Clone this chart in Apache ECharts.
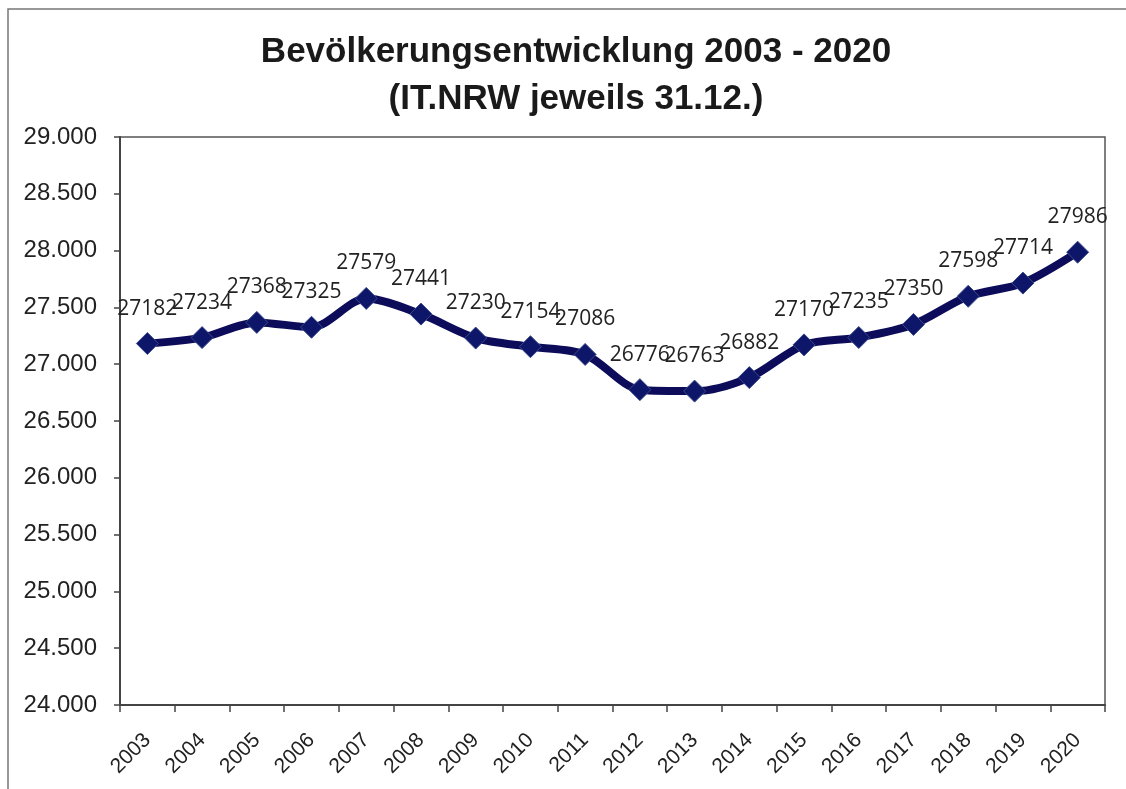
<!DOCTYPE html>
<html>
<head>
<meta charset="utf-8">
<script src="https://cdn.jsdelivr.net/npm/echarts@6/dist/echarts.min.js"></script>
<style>
  html, body { margin: 0; padding: 0; background: #fff; }
  #chart { width: 1126px; height: 789px; }
</style>
</head>
<body>
<div id="chart"></div>
<script>
// Werte laut IT.NRW, jeweils zum 31.12.
const years = ["2003", "2004", "2005", "2006", "2007", "2008", "2009", "2010", "2011",
  "2012", "2013", "2014", "2015", "2016", "2017", "2018", "2019", "2020"];
const population = [27182, 27234, 27368, 27325, 27579, 27441, 27230, 27154, 27086,
  26776, 26763, 26882, 27170, 27235, 27350, 27598, 27714, 27986];
const yMin = 24000;
const yMax = 29000;
const yStep = 500;

// 29000 -> "29.000"
function deNumber(v) {
  return String(v).replace(/\B(?=(\d{3})+(?!\d))/g, ".");
}

const chart = echarts.init(document.getElementById("chart"));
chart.setOption({
  backgroundColor: "#fff",
  animation: false,
  title: {
    text: "Bevölkerungsentwicklung 2003 - 2020\n(IT.NRW jeweils 31.12.)",
    left: 571,
    top: 24,
    textAlign: "center",
    textStyle: {
      fontFamily: "Liberation Sans",
      fontWeight: "bold",
      fontSize: 35,
      lineHeight: 47,
      color: "#1a1a1a"
    }
  },
  graphic: [{
    type: "rect",
    shape: { x: 8, y: 9, width: 1140, height: 800 },
    style: { fill: "none", stroke: "#777", lineWidth: 1.5 }
  }],
  grid: {
    left: 120, right: 21, top: 137, bottom: 84,
    show: true,
    borderColor: "#555",
    borderWidth: 1.5
  },
  xAxis: {
    type: "category",
    data: years,
    boundaryGap: true,
    axisLine: { lineStyle: { color: "#444", width: 2 } },
    axisTick: { show: true, length: 7, lineStyle: { color: "#444", width: 1.5 } },
    axisLabel: {
      rotate: 45,
      margin: 32,
      fontFamily: "Liberation Sans",
      fontSize: 21,
      color: "#222"
    }
  },
  yAxis: {
    type: "value",
    min: yMin,
    max: yMax,
    interval: yStep,
    axisLine: { show: true, lineStyle: { color: "#444", width: 2 } },
    axisTick: { show: true, length: 6, lineStyle: { color: "#444", width: 1.5 } },
    splitLine: { show: false },
    axisLabel: {
      margin: 23,
      fontFamily: "Liberation Sans",
      fontSize: 24,
      color: "#222",
      formatter: deNumber
    }
  },
  series: [{
    type: "line",
    data: population,
    smooth: 0.3,
    symbol: "diamond",
    symbolSize: 22,
    lineStyle: { color: "#0c0c5a", width: 8 },
    itemStyle: { color: "#0d1668", borderColor: "#3a4a8a", borderWidth: 1 },
    label: {
      show: true,
      position: "top",
      distance: 13,
      fontFamily: "Open Sans",
      fontSize: 21,
      color: "#222"
    }
  }]
});
</script>
</body>
</html>
